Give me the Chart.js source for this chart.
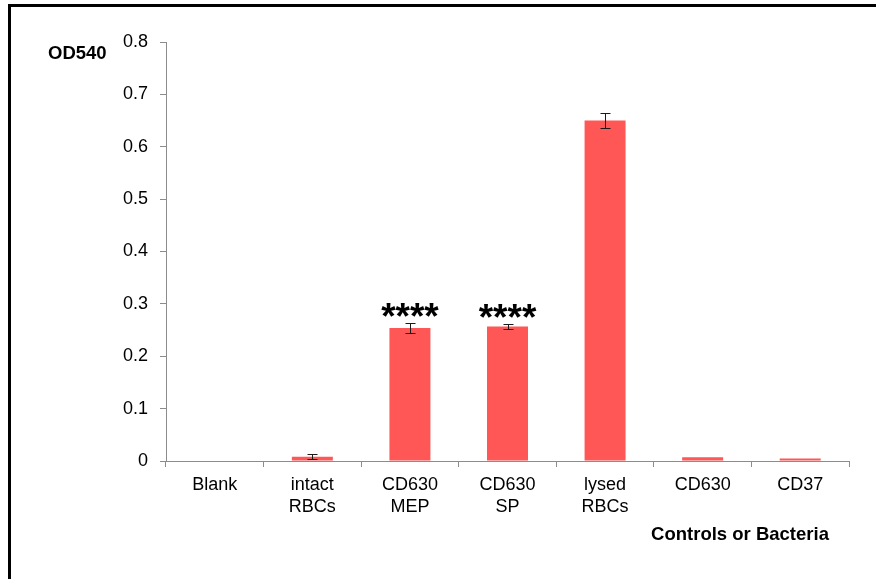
<!DOCTYPE html>
<html>
<head>
<meta charset="utf-8">
<script src="https://cdn.jsdelivr.net/npm/chart.js@4/dist/chart.umd.min.js"></script>
<style>
html,body{margin:0;padding:0;background:#fff;}
#wrap{width:876px;height:579px;position:relative;}
</style>
</head>
<body>
<div id="wrap"><canvas id="c" width="876" height="579"></canvas></div>
<script>
const categories = [['Blank'], ['intact', 'RBCs'], ['CD630', 'MEP'], ['CD630', 'SP'], ['lysed', 'RBCs'], ['CD630'], ['CD37']];
const od540 = [0, 0.008, 0.254, 0.257, 0.650, 0.007, 0.005];
const errors = [0, 0.005, 0.009, 0.005, 0.015, 0, 0];
const significance = ['', '', '****', '****', '', '', ''];
const yTicks = [0, 0.1, 0.2, 0.3, 0.4, 0.5, 0.6, 0.7, 0.8];
const yTitle = 'OD540';
const xTitle = 'Controls or Bacteria';

const FONT = "'Liberation Sans', Arial, sans-serif";

const extras = {
  id: 'extras',
  afterDatasetsDraw(chart) {
    const ctx = chart.ctx;
    const meta = chart.getDatasetMeta(0);
    const y = chart.scales.y;
    ctx.save();
    // error bars
    ctx.strokeStyle = '#1a1a1a';
    ctx.lineWidth = 1;
    meta.data.forEach((bar, i) => {
      const e = errors[i];
      if (!e) return;
      const x = Math.round(bar.x) + 0.5;
      const yt = Math.round(y.getPixelForValue(od540[i] + e)) + 0.5;
      const yb = Math.round(y.getPixelForValue(od540[i] - e)) + 0.5;
      ctx.beginPath();
      ctx.moveTo(x, yt); ctx.lineTo(x, yb);
      ctx.moveTo(x - 5, yt); ctx.lineTo(x + 5, yt);
      ctx.moveTo(x - 5, yb); ctx.lineTo(x + 5, yb);
      ctx.stroke();
    });
    // significance stars
    ctx.fillStyle = '#000';
    ctx.font = 'bold 37px ' + FONT;
    ctx.textAlign = 'center';
    ctx.textBaseline = 'alphabetic';
    meta.data.forEach((bar, i) => {
      if (!significance[i]) return;
      const top = y.getPixelForValue(od540[i] + errors[i]);
      ctx.fillText(significance[i], bar.x, top + 6);
    });
    ctx.restore();
  },
  afterDraw(chart) {
    const ctx = chart.ctx;
    ctx.save();
    // frame (left and top edges)
    ctx.fillStyle = '#000';
    ctx.fillRect(8, 4, 876, 3);
    ctx.fillRect(8, 4, 3, 579);
    // titles
    ctx.font = 'bold 18.5px ' + FONT;
    ctx.fillStyle = '#000';
    ctx.textBaseline = 'middle';
    ctx.textAlign = 'left';
    ctx.fillText(yTitle, 48, 54);
    ctx.textAlign = 'center';
    ctx.fillText(xTitle, 740, 535);
    ctx.restore();
  }
};

new Chart(document.getElementById('c'), {
  type: 'bar',
  data: {
    labels: categories,
    datasets: [{
      data: od540,
      backgroundColor: '#FF5656',
      borderWidth: 0,
      barPercentage: 0.42,
      categoryPercentage: 1.0
    }]
  },
  options: {
    responsive: false,
    animation: false,
    devicePixelRatio: 1,
    layout: { padding: { left: 0, right: 27, top: 42, bottom: 0 } },
    plugins: { legend: { display: false }, tooltip: { enabled: false } },
    scales: {
      x: {
        grid: { display: true, drawOnChartArea: false, drawTicks: true, tickLength: 6, color: '#8c8c8c', offset: true },
        border: { display: true, color: '#8c8c8c', width: 1 },
        ticks: { color: '#000', font: { family: FONT, size: 18, lineHeight: 1.22 }, padding: 7, maxRotation: 0, autoSkip: false },
        afterFit(s) { s.height = 118; }
      },
      y: {
        min: 0, max: 0.8,
        afterBuildTicks(s) { s.ticks = yTicks.map(v => ({ value: v })); },
        grid: { display: true, drawOnChartArea: false, drawTicks: true, tickLength: 6, color: '#8c8c8c' },
        border: { display: true, color: '#8c8c8c', width: 1 },
        ticks: { color: '#000', font: { family: FONT, size: 18 }, padding: 12,
          callback: v => String(Math.round(v * 10) / 10) },
        afterFit(s) { s.width = 166; }
      }
    }
  },
  plugins: [extras]
});
</script>
</body>
</html>
